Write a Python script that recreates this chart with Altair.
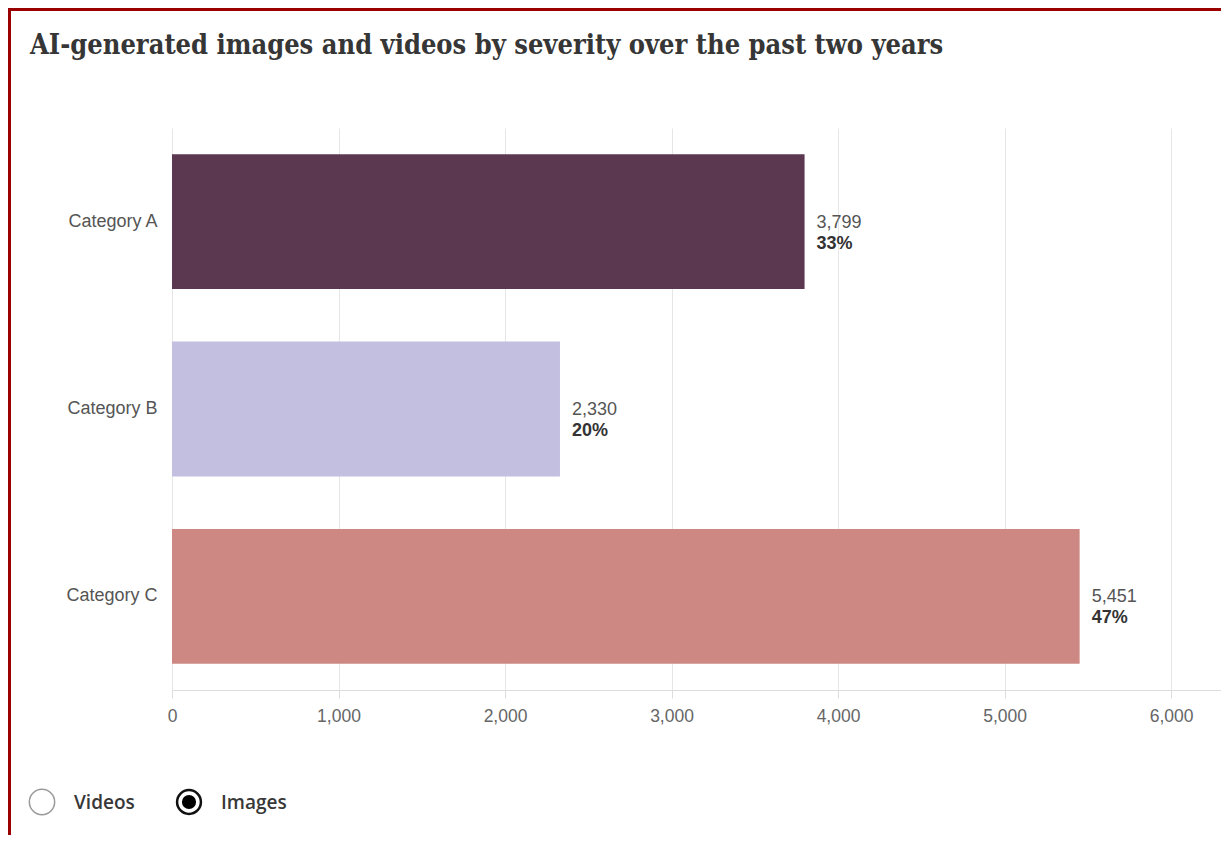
import altair as alt
import pandas as pd

# ---- data ----
categories = ["Category A", "Category B", "Category C"]
values = [3799, 2330, 5451]
percents = ["33%", "20%", "47%"]
bar_colors = ["#5b3750", "#c2bfe0", "#cd8884"]
x_ticks = [0, 1000, 2000, 3000, 4000, 5000, 6000]
radio_options = ["Videos", "Images"]
selected_option = "Images"
title_text = "AI-generated images and videos by severity over the past two years"

df = pd.DataFrame({"category": categories, "value": values, "pct": percents})

SANS = "Liberation Sans, Arial, Helvetica, sans-serif"
W, H = 1049, 562
PAD_B = 145

y_enc = alt.Y(
    "category:N",
    sort=categories,
    scale=alt.Scale(paddingInner=0.28, paddingOuter=0.14),
    axis=alt.Axis(
        title=None, ticks=False, domain=False, labelFontSize=18,
        labelColor="#555555", labelPadding=15, labelFont=SANS,
    ),
)
x_enc = alt.X(
    "value:Q",
    scale=alt.Scale(domain=[0, 6300], nice=False),
    axis=alt.Axis(
        title=None, values=x_ticks, labelExpr="format(datum.value, ',')",
        grid=True, gridColor="#e6e6e6", labelFlush=False,
        domainColor="#dddddd", tickColor="#dddddd", tickSize=8,
        labelFontSize=17.5, labelColor="#666666", labelPadding=9, labelFont=SANS,
    ),
)

base = alt.Chart(df)

bars = base.mark_bar().encode(
    y=y_enc,
    x=x_enc,
    color=alt.Color("category:N", scale=alt.Scale(domain=categories, range=bar_colors), legend=None),
)

val_text = base.mark_text(
    align="left", baseline="alphabetic", dx=12, dy=6, fontSize=18,
    color="#555555", font=SANS,
).encode(y=y_enc, x=x_enc, text=alt.Text("value:Q", format=","))

pct_text = base.mark_text(
    align="left", baseline="alphabetic", dx=12, dy=27, fontSize=18,
    fontWeight="bold", color="#333333", font=SANS,
).encode(y=y_enc, x=x_enc, text="pct:N")

# ---- decorative frame (page border in the screenshot) ----
one = alt.Data(values=[{"k": 1}])
border_color = "#9a0000"
left_border = alt.Chart(one).mark_rule(color=border_color, strokeWidth=3).encode(
    x=alt.value(-162.5), y=alt.value(-120), y2=alt.value(H + PAD_B)
)
top_border = alt.Chart(one).mark_rule(color=border_color, strokeWidth=3).encode(
    x=alt.value(-164), x2=alt.value(W), y=alt.value(-118.5)
)

# ---- radio control drawn below the chart ----
radio_df = pd.DataFrame({"option": radio_options,
                         "selected": [o == selected_option for o in radio_options]})
radio_x = {"Videos": -130, "Images": 17}
radio_layers = []
for opt in radio_options:
    sel = opt == selected_option
    d = alt.Chart(radio_df).transform_filter(alt.datum.option == opt)
    ring = d.mark_point(
        shape="circle", filled=False, fill="white",
        stroke="#111111" if sel else "#9a9a9a",
        strokeWidth=2.5 if sel else 1.5, size=570 if sel else 640, opacity=1,
    ).encode(x=alt.value(radio_x[opt]), y=alt.value(674))
    radio_layers.append(ring)
    if sel:
        dot = d.mark_point(shape="circle", filled=True, color="#000000", size=200, opacity=1).encode(
            x=alt.value(radio_x[opt]), y=alt.value(674)
        )
        radio_layers.append(dot)
    lbl = d.mark_text(
        align="left", baseline="alphabetic", fontSize=19, font="Open Sans",
        fontWeight=600, color="#383838",
    ).encode(x=alt.value(radio_x[opt] + 32), y=alt.value(681), text="option:N")
    radio_layers.append(lbl)

chart = alt.layer(bars, val_text, pct_text, left_border, top_border, *radio_layers).properties(
    width=W,
    height=H,
    title=alt.TitleParams(
        text=title_text, anchor="start", frame="group", dx=-142, offset=0, dy=74,
        baseline="alphabetic", font="DejaVu Serif Condensed, DejaVu Serif",
        fontSize=27, fontWeight="bold", color="#363636",
    ),
    autosize=alt.AutoSizeParams(type="none"),
    padding={"left": 164, "top": 120, "right": 0, "bottom": PAD_B},
    background="white",
).configure_view(stroke=None)

chart.save("out.html", embed_options={"renderer": "svg", "actions": False})
